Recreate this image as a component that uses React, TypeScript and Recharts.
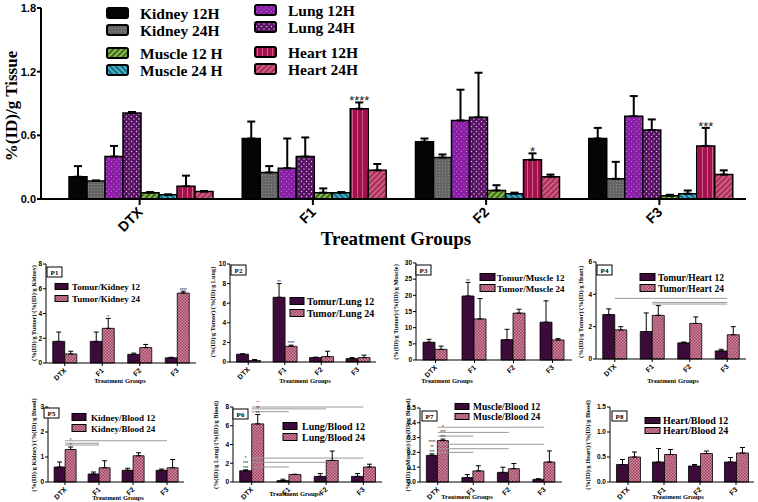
import { BarChart, Bar, XAxis, YAxis, ErrorBar, LabelList, ReferenceLine } from 'recharts'

const SANS = '"Liberation Sans", Arial, sans-serif'
const SERIF = '"Liberation Serif", "Times New Roman", serif'

const groups = ['DTX', 'F1', 'F2', 'F3']

// top chart: %(ID)/g tissue (mean and upper SD)
const kidney12 = [0.21, 0.57, 0.54, 0.57]
const kidney12Sd = [0.1, 0.16, 0.03, 0.1]
const kidney24 = [0.17, 0.25, 0.39, 0.19]
const kidney24Sd = [0.005, 0.06, 0.03, 0.16]
const lung12 = [0.4, 0.29, 0.74, 0.78]
const lung12Sd = [0.1, 0.28, 0.29, 0.19]
const lung24 = [0.81, 0.4, 0.77, 0.65]
const lung24Sd = [0.01, 0.18, 0.42, 0.1]
const muscle12 = [0.06, 0.06, 0.08, 0.03]
const muscle12Sd = [0.005, 0.04, 0.05, 0.01]
const muscle24 = [0.04, 0.06, 0.05, 0.05]
const muscle24Sd = [0.003, 0.005, 0.01, 0.03]
const heart12 = [0.12, 0.85, 0.37, 0.5]
const heart12Sd = [0.1, 0.06, 0.06, 0.17]
const heart24 = [0.07, 0.27, 0.21, 0.23]
const heart24Sd = [0.005, 0.06, 0.02, 0.04]
const heart12Stars = ['', '****', '*', '***']

// P1 tumor/kidney
const p1At12 = [1.75, 1.75, 0.7, 0.42]
const p1At12Sd = [0.75, 0.75, 0.1, 0.04]
const p1At24 = [0.73, 2.8, 1.25, 5.65]
const p1At24Sd = [0.22, 0.8, 0.25, 0.15]
const p1Stars24 = ['', '*', '', '****']
// P2 tumor/lung
const p2At12 = [0.8, 6.6, 0.45, 0.35]
const p2At12Sd = [0.03, 1.4, 0.05, 0.1]
const p2At24 = [0.15, 1.6, 0.55, 0.45]
const p2At24Sd = [0.1, 0.12, 0.55, 0.25]
const p2Stars12 = ['', '**', '', '']
const p2Stars24 = ['', '****', '', '']
// P3 tumor/muscle
const p3At12 = [5.5, 19.8, 6.3, 11.7]
const p3At12Sd = [0.9, 4.2, 3.2, 6.6]
const p3At24 = [3.3, 12.7, 14.5, 6.2]
const p3At24Sd = [1.0, 6.3, 1.2, 0.4]
const p3Stars12 = ['', '**', '', '']
// P4 tumor/heart
const p4At12 = [2.75, 1.7, 1.0, 0.5]
const p4At12Sd = [0.35, 1.15, 0.05, 0.1]
const p4At24 = [1.8, 2.7, 2.2, 1.5]
const p4At24Sd = [0.2, 0.6, 0.4, 0.5]
// P5 kidney/blood
const p5At12 = [0.6, 0.32, 0.47, 0.47]
const p5At12Sd = [0.2, 0.08, 0.08, 0.05]
const p5At24 = [1.3, 0.57, 1.05, 0.57]
const p5At24Sd = [0.1, 0.28, 0.12, 0.33]
const p5Stars24 = ['*\n*', '', '', '']
// P6 lung/blood
const p6At12 = [1.2, 0.15, 0.6, 0.6]
const p6At12Sd = [0.1, 0.15, 0.3, 0.3]
const p6At24 = [6.2, 0.8, 2.3, 1.6]
const p6At24Sd = [1.0, 0.03, 1.0, 0.3]
const p6Stars12 = ['*\n***\n***', '', '', '']
const p6Stars24 = ['**\n**\n**', '', '', '']
// P7 muscle/blood
const p7At12 = [0.18, 0.03, 0.065, 0.018]
const p7At12Sd = [0.01, 0.02, 0.035, 0.004]
const p7At24 = [0.28, 0.075, 0.09, 0.135]
const p7At24Sd = [0.01, 0.035, 0.035, 0.075]
const p7Stars12 = ['****\n**\n***', '', '', '']
const p7Stars24 = ['*\n***\n***', '', '', '']
// P8 heart/blood
const p8At12 = [0.35, 0.4, 0.32, 0.4]
const p8At12Sd = [0.1, 0.27, 0.03, 0.09]
const p8At24 = [0.5, 0.55, 0.57, 0.58]
const p8At24Sd = [0.1, 0.1, 0.05, 0.11]

// significance brackets: [from, to, y]
const p4Sig: [string, string, number][] = [['DTX', 'F3', 3.75], ['F1', 'F3', 3.5], ['F1', 'F3', 3.4]]
const p5Sig: [string, string, number][] = [['DTX', 'F3', 1.65], ['DTX', 'F1', 1.55], ['DTX', 'F1', 1.48]]
const p6Sig: [string, string, number][] = [
  ['DTX', 'F3', 8.0], ['DTX', 'F2', 7.8], ['DTX', 'F1', 7.5],
  ['DTX', 'F3', 2.55], ['DTX', 'F2', 2.1], ['DTX', 'F1', 1.6],
]
const p7Sig: [string, string, number][] = [
  ['DTX', 'F3', 0.37], ['DTX', 'F2', 0.335], ['DTX', 'F1', 0.31],
  ['DTX', 'F3', 0.255], ['DTX', 'F2', 0.225], ['DTX', 'F1', 0.2],
]

type Series = { key: string; name: string; vals: number[]; sd: number[]; fill: string; stars?: string[] }

const mainSeries: Series[] = [
  { key: 'k12', name: 'Kidney 12H', vals: kidney12, sd: kidney12Sd, fill: '#050505' },
  { key: 'k24', name: 'Kidney 24H', vals: kidney24, sd: kidney24Sd, fill: 'url(#kid24)' },
  { key: 'l12', name: 'Lung 12H', vals: lung12, sd: lung12Sd, fill: 'url(#lung12)' },
  { key: 'l24', name: 'Lung 24H', vals: lung24, sd: lung24Sd, fill: 'url(#lung24)' },
  { key: 'm12', name: 'Muscle 12 H', vals: muscle12, sd: muscle12Sd, fill: 'url(#mus12)' },
  { key: 'm24', name: 'Muscle 24 H', vals: muscle24, sd: muscle24Sd, fill: 'url(#mus24)' },
  { key: 'h12', name: 'Heart 12H', vals: heart12, sd: heart12Sd, fill: 'url(#heart12)', stars: heart12Stars },
  { key: 'h24', name: 'Heart 24H', vals: heart24, sd: heart24Sd, fill: 'url(#heart24)' },
]

const mainLegendPos: Record<string, [number, number]> = {
  k12: [107, 19], k24: [107, 36], m12: [107, 59], m24: [107, 76],
  l12: [255, 16], l24: [255, 33], h12: [255, 58], h24: [255, 75],
}

const C12 = '#3d0b3a'
const C24 = 'url(#small24)'

const panels = [
  {
    tag: 'P1', names: ['Tomur/Kidney 12', 'Tumor/Kidney 24'], title: '(%(ID)/g Tumor)/(%(ID)/g Kidney)',
    a: p1At12, aSd: p1At12Sd, b: p1At24, bSd: p1At24Sd, bStars: p1Stars24, ticks: [0, 2, 4, 6, 8], dec: 0,
    axisX: 46, top: 264, bottom: 363, right: 196,
    tagPos: [47, 267], titlePos: [33, 313], leg: { sx: 55, tx: 72, b1: 290, b2: 302, size: 9, sw: 13, sh: 6 }, tg: [120, 383],
  },
  {
    tag: 'P2', names: ['Tomur/Lung 12', 'Tumor/Lung 24'], title: '(%(ID)/g Tumor)/(%(ID)/g Lung)',
    a: p2At12, aSd: p2At12Sd, b: p2At24, bSd: p2At24Sd, aStars: p2Stars12, bStars: p2Stars24, ticks: [0, 2, 4, 6, 8, 10], dec: 0,
    axisX: 230, top: 264, bottom: 362, right: 376,
    tagPos: [231, 265], titlePos: [212, 312], leg: { sx: 290, tx: 307, b1: 305, b2: 317, size: 10, sw: 14, sh: 7 }, tg: [305, 383],
  },
  {
    tag: 'P3', names: ['Tomur/Muscle 12', 'Tumor/Muscle 24'], title: '(%(ID)/g Tumor)/(%(ID)/g Muscle)',
    a: p3At12, aSd: p3At12Sd, b: p3At24, bSd: p3At24Sd, aStars: p3Stars12, ticks: [0, 5, 10, 15, 20, 25, 30], dec: 0,
    axisX: 416, top: 263, bottom: 360, right: 572,
    tagPos: [416, 265], titlePos: [395, 312], leg: { sx: 480, tx: 497, b1: 281, b2: 292, size: 9, sw: 15, sh: 7 }, tg: [447, 383],
  },
  {
    tag: 'P4', names: ['Tomur/Heart 12', 'Tumor/Heart 24'], title: '(%(ID)/g Tumor)/(%(ID)/g Heart)',
    a: p4At12, aSd: p4At12Sd, b: p4At24, bSd: p4At24Sd, ticks: [0, 2, 4, 6], dec: 0, sig: p4Sig,
    axisX: 596, top: 262, bottom: 359, right: 746,
    tagPos: [597, 265], titlePos: [580, 312], leg: { sx: 640, tx: 658, b1: 281, b2: 292, size: 9.5, sw: 15, sh: 7 }, tg: [673, 383],
  },
  {
    tag: 'P5', names: ['Kidney/Blood 12', 'Kidney/Blood 24'], title: '(%(ID)/g Kidney)/(%(ID)/g Blood)',
    a: p5At12, aSd: p5At12Sd, b: p5At24, bSd: p5At24Sd, bStars: p5Stars24, ticks: [0, 1, 2, 3], dec: 0, sig: p5Sig,
    axisX: 48, top: 407, bottom: 482, right: 184,
    tagPos: [44, 408], titlePos: [33, 445], leg: { sx: 72, tx: 91, b1: 421, b2: 432, size: 9, sw: 14, sh: 7 }, tg: [118, 500],
  },
  {
    tag: 'P6', names: ['Lung/Blood 12', 'Lung/Blood 24'], title: '(%(ID)/g Lung)/(%(ID)/g Blood)',
    a: p6At12, aSd: p6At12Sd, b: p6At24, bSd: p6At24Sd, aStars: p6Stars12, bStars: p6Stars24, ticks: [0, 2, 4, 6, 8], dec: 0, sig: p6Sig,
    axisX: 233, top: 407, bottom: 482, right: 382,
    tagPos: [233, 409], titlePos: [215, 445], leg: { sx: 283, tx: 302, b1: 430, b2: 441, size: 10, sw: 14, sh: 7 }, tg: [295, 496],
  },
  {
    tag: 'P7', names: ['Muscle/Blood 12', 'Muscle/Blood 24'], title: '(%(ID)/g Muscle)/(%(ID)/g Blood)',
    a: p7At12, aSd: p7At12Sd, b: p7At24, bSd: p7At24Sd, aStars: p7Stars12, bStars: p7Stars24, ticks: [0, 0.1, 0.2, 0.3, 0.4, 0.5], dec: 1, sig: p7Sig,
    axisX: 420, top: 408, bottom: 482, right: 562,
    tagPos: [422, 411], titlePos: [407, 445], leg: { sx: 455, tx: 473, b1: 410, b2: 420, size: 9.5, sw: 14, sh: 6 }, tg: [467, 499],
  },
  {
    tag: 'P8', names: ['Heart/Blood 12', 'Heart/Blood 24'], title: '(%(ID)/g Heart)/(%(ID)/g Blood)',
    a: p8At12, aSd: p8At12Sd, b: p8At24, bSd: p8At24Sd, ticks: [0, 0.5, 1.0, 1.5], dec: 1,
    axisX: 610, top: 407, bottom: 482, right: 754,
    tagPos: [612, 411], titlePos: [587, 445], leg: { sx: 645, tx: 663, b1: 424, b2: 434, size: 10, sw: 15, sh: 6 }, tg: [678, 499],
  },
]

function buildRows(series: { key: string; vals: number[]; sd: number[]; stars?: string[] }[]) {
  return groups.map((g, i) => {
    const row: Record<string, any> = { group: g }
    series.forEach(s => {
      row[s.key] = s.vals[i]
      row[s.key + 'Err'] = [0, s.sd[i]]
      row[s.key + 'Star'] = s.stars && s.stars[i] ? `${s.stars[i]}|${s.sd[i]}|${s.vals[i]}` : ''
    })
    return row
  })
}

// stars sit just above the error bar cap, stacked when there are several rows
const starLabel = (size: number, step: number) => (props: any) => {
  const { x, y, width, height, value } = props
  if (!value) return null
  const [s, sd, v] = String(value).split('|')
  const ppu = Math.abs(Number(height)) / Number(v)
  const top = Number(y) - Number(sd) * ppu
  const lines = s.split('\n')
  const cx = Number(x) + Number(width) / 2
  const base = top + size * 0.3 - 1
  return (
    <g>
      {lines.map((l, k) => (
        <text key={k} x={cx} y={base - (lines.length - 1 - k) * step} textAnchor="middle" fontSize={size} fontFamily={SANS} fill="#222">
          {l}
        </text>
      ))}
    </g>
  )
}

const MainTick = (props: any) => {
  const { x, y, payload } = props
  return (
    <g transform={`translate(${x + 4},${y + 6})`}>
      <text textAnchor="end" transform="rotate(-45)" fontSize={14} fontWeight="bold" fontFamily={SANS} fill="#000">
        {payload.value}
      </text>
    </g>
  )
}

const SmallTick = (props: any) => {
  const { x, y, payload } = props
  return (
    <g transform={`translate(${x + 2},${y + 3})`}>
      <text textAnchor="end" transform="rotate(-45)" fontSize={7} fontWeight="bold" fontFamily={SANS} fill="#000">
        {payload.value}
      </text>
    </g>
  )
}

function Patterns() {
  return (
    <svg width={0} height={0} style={{ position: 'absolute' }}>
      <defs>
        <pattern id="kid24" width="3" height="3" patternUnits="userSpaceOnUse">
          <rect width="3" height="3" fill="#656565" />
          <rect x="1" y="1" width="1" height="1" fill="#8c8c8c" />
        </pattern>
        <pattern id="lung12" width="5" height="5" patternUnits="userSpaceOnUse">
          <rect width="5" height="5" fill="#8a1ea6" />
          <circle cx="1.5" cy="1.5" r="0.6" fill="#c48ad4" />
          <circle cx="4" cy="4" r="0.6" fill="#c48ad4" />
        </pattern>
        <pattern id="lung24" width="5" height="5" patternUnits="userSpaceOnUse">
          <rect width="5" height="5" fill="#581264" />
          <circle cx="1.5" cy="1.5" r="0.7" fill="#e2c6ea" />
          <circle cx="4" cy="4" r="0.7" fill="#e2c6ea" />
        </pattern>
        <pattern id="mus12" width="4" height="4" patternUnits="userSpaceOnUse" patternTransform="rotate(45)">
          <rect width="4" height="4" fill="#3c6a22" />
          <rect width="1.8" height="4" fill="#95c24e" />
        </pattern>
        <pattern id="mus24" width="4" height="4" patternUnits="userSpaceOnUse" patternTransform="rotate(-45)">
          <rect width="4" height="4" fill="#186a82" />
          <rect width="1.8" height="4" fill="#4cbcd6" />
        </pattern>
        <pattern id="heart12" width="5" height="5" patternUnits="userSpaceOnUse">
          <rect width="5" height="5" fill="#a1124c" />
          <rect x="2" width="1" height="5" fill="#cf5a88" />
        </pattern>
        <pattern id="heart24" width="4" height="4" patternUnits="userSpaceOnUse" patternTransform="rotate(45)">
          <rect width="4" height="4" fill="#ac2c5a" />
          <rect width="1.5" height="4" fill="#d3708f" />
        </pattern>
        <pattern id="small24" width="3" height="3" patternUnits="userSpaceOnUse">
          <rect width="3" height="3" fill="#d48aa0" />
          <rect width="1.5" height="1.5" fill="#9a4262" />
          <rect x="1.5" y="1.5" width="1.5" height="1.5" fill="#9a4262" />
        </pattern>
      </defs>
    </svg>
  )
}

function MainChart() {
  const data = buildRows(mainSeries)
  return (
    <BarChart width={758} height={250} data={data} margin={{ top: 8, right: 12, left: 0, bottom: 0 }} barCategoryGap={16} barGap={0}>
      <XAxis
        dataKey="group"
        height={51}
        interval={0}
        padding={{ left: 12, right: 0 }}
        axisLine={{ stroke: '#000', strokeWidth: 2 }}
        tickLine={{ stroke: '#000', strokeWidth: 2 }}
        tickSize={6}
        tick={(p: any) => <MainTick {...p} />}
      />
      <YAxis
        width={41}
        domain={[0, 1.8]}
        ticks={[0, 0.6, 1.2, 1.8]}
        tickFormatter={(v: number) => v.toFixed(1)}
        tickSize={4}
        tickMargin={1}
        axisLine={{ stroke: '#000', strokeWidth: 2 }}
        tickLine={{ stroke: '#000', strokeWidth: 2 }}
        tick={{ fill: '#000', fontSize: 11, fontWeight: 'bold', fontFamily: SANS }}
      />
      {mainSeries.map(s => (
        <Bar key={s.key} dataKey={s.key} fill={s.fill} stroke="#000" strokeWidth={1.5} isAnimationActive={false}>
          <ErrorBar dataKey={s.key + 'Err'} width={4} stroke="#000" strokeWidth={2} direction="y" />
          {s.stars && <LabelList dataKey={s.key + 'Star'} content={starLabel(13, 10)} />}
        </Bar>
      ))}
    </BarChart>
  )
}

function SmallPanel({ p }: { p: any }) {
  const left = p.axisX - 22
  const top = p.top - 6
  const W = p.right + 4 - left
  const H = p.bottom - top + 22
  const series = [
    { key: 'a', vals: p.a, sd: p.aSd, stars: p.aStars },
    { key: 'b', vals: p.b, sd: p.bSd, stars: p.bStars },
  ]
  const data = buildRows(series)
  const max = p.ticks[p.ticks.length - 1]
  return (
    <div style={{ position: 'absolute', left, top, width: W, height: H }}>
      <BarChart width={W} height={H} data={data} margin={{ top: 6, right: 4, left: 0, bottom: 0 }} barCategoryGap="18%" barGap={0}>
        <XAxis
          dataKey="group"
          height={22}
          interval={0}
          tickSize={3}
          axisLine={{ stroke: '#000' }}
          tickLine={{ stroke: '#000' }}
          tick={(t: any) => <SmallTick {...t} />}
        />
        <YAxis
          width={22}
          domain={[0, max]}
          ticks={p.ticks}
          tickSize={3}
          tickMargin={1}
          tickFormatter={(v: number) => v.toFixed(p.dec)}
          axisLine={{ stroke: '#000' }}
          tickLine={{ stroke: '#000' }}
          tick={{ fill: '#000', fontSize: 6.5, fontWeight: 'bold', fontFamily: SANS }}
        />
        {(p.sig || []).map(([from, to, y]: [string, string, number], k: number) => (
          <ReferenceLine key={k} segment={[{ x: from, y }, { x: to, y }]} stroke="#9a9a9a" strokeWidth={1} />
        ))}
        <Bar dataKey="a" fill={C12} stroke="#000" strokeWidth={0.8} isAnimationActive={false}>
          <ErrorBar dataKey="aErr" width={2.5} stroke="#000" strokeWidth={1} direction="y" />
          <LabelList dataKey="aStar" content={starLabel(4.5, 5.3)} />
        </Bar>
        <Bar dataKey="b" fill={C24} stroke="#000" strokeWidth={0.8} isAnimationActive={false}>
          <ErrorBar dataKey="bErr" width={2.5} stroke="#000" strokeWidth={1} direction="y" />
          <LabelList dataKey="bStar" content={starLabel(4.5, 5.3)} />
        </Bar>
      </BarChart>
    </div>
  )
}

function Overlay() {
  return (
    <svg width={758} height={502} style={{ position: 'absolute', left: 0, top: 0, pointerEvents: 'none' }}>
      {mainSeries.map(s => {
        const [sx, base] = mainLegendPos[s.key]
        return (
          <g key={s.key}>
            <rect x={sx} y={base - 11} width={21} height={10} rx={2} fill={s.fill} stroke="#000" strokeWidth={2} />
            <text x={sx + 33} y={base} fontSize={15.5} fontWeight="bold" fontFamily={SERIF} fill="#000">{s.name}</text>
          </g>
        )
      })}
      <text x={11} y={106} transform="rotate(-90 11 106)" textAnchor="middle" dominantBaseline="central" fontSize={17} fontWeight="bold" fontFamily={SERIF} fill="#000">
        %(ID)/g Tissue
      </text>
      <text x={396} y={245} textAnchor="middle" fontSize={19} fontWeight="bold" fontFamily={SERIF} fill="#000">
        Treatment Groups
      </text>
      {panels.map(p => {
        const [tx, ty] = p.tagPos
        const [yx, yy] = p.titlePos
        const L = p.leg
        return (
          <g key={p.tag}>
            <rect x={tx} y={ty} width={15} height={10} fill="#fff" stroke="#000" strokeWidth={1} />
            <text x={tx + 7.5} y={ty + 7.5} textAnchor="middle" fontSize={7} fontWeight="bold" fontFamily={SERIF} fill="#000">{p.tag}</text>
            <text x={yx} y={yy} transform={`rotate(-90 ${yx} ${yy})`} textAnchor="middle" dominantBaseline="central" fontSize={6.3} fontWeight="bold" fontFamily={SERIF} fill="#000">
              {p.title}
            </text>
            <rect x={L.sx} y={L.b1 - L.sh - 0.5} width={L.sw} height={L.sh} fill={C12} stroke="#000" strokeWidth={1} />
            <rect x={L.sx} y={L.b2 - L.sh - 0.5} width={L.sw} height={L.sh} fill={C24} stroke="#000" strokeWidth={1} />
            <text x={L.tx} y={L.b1} fontSize={L.size} fontWeight="bold" fontFamily={SERIF} fill="#000">{p.names[0]}</text>
            <text x={L.tx} y={L.b2} fontSize={L.size} fontWeight="bold" fontFamily={SERIF} fill="#000">{p.names[1]}</text>
            <text x={p.tg[0]} y={p.tg[1]} textAnchor="middle" fontSize={6.5} fontWeight="bold" fontFamily={SERIF} fill="#000">Treatment Groups</text>
          </g>
        )
      })}
    </svg>
  )
}

export default function App() {
  return (
    <div style={{ position: 'absolute', left: 0, top: 0, width: 758, height: 502, background: '#fff', overflow: 'hidden' }}>
      <Patterns />
      <div style={{ position: 'absolute', left: 0, top: 0 }}>
        <MainChart />
      </div>
      {panels.map(p => (
        <SmallPanel key={p.tag} p={p} />
      ))}
      <Overlay />
    </div>
  )
}
